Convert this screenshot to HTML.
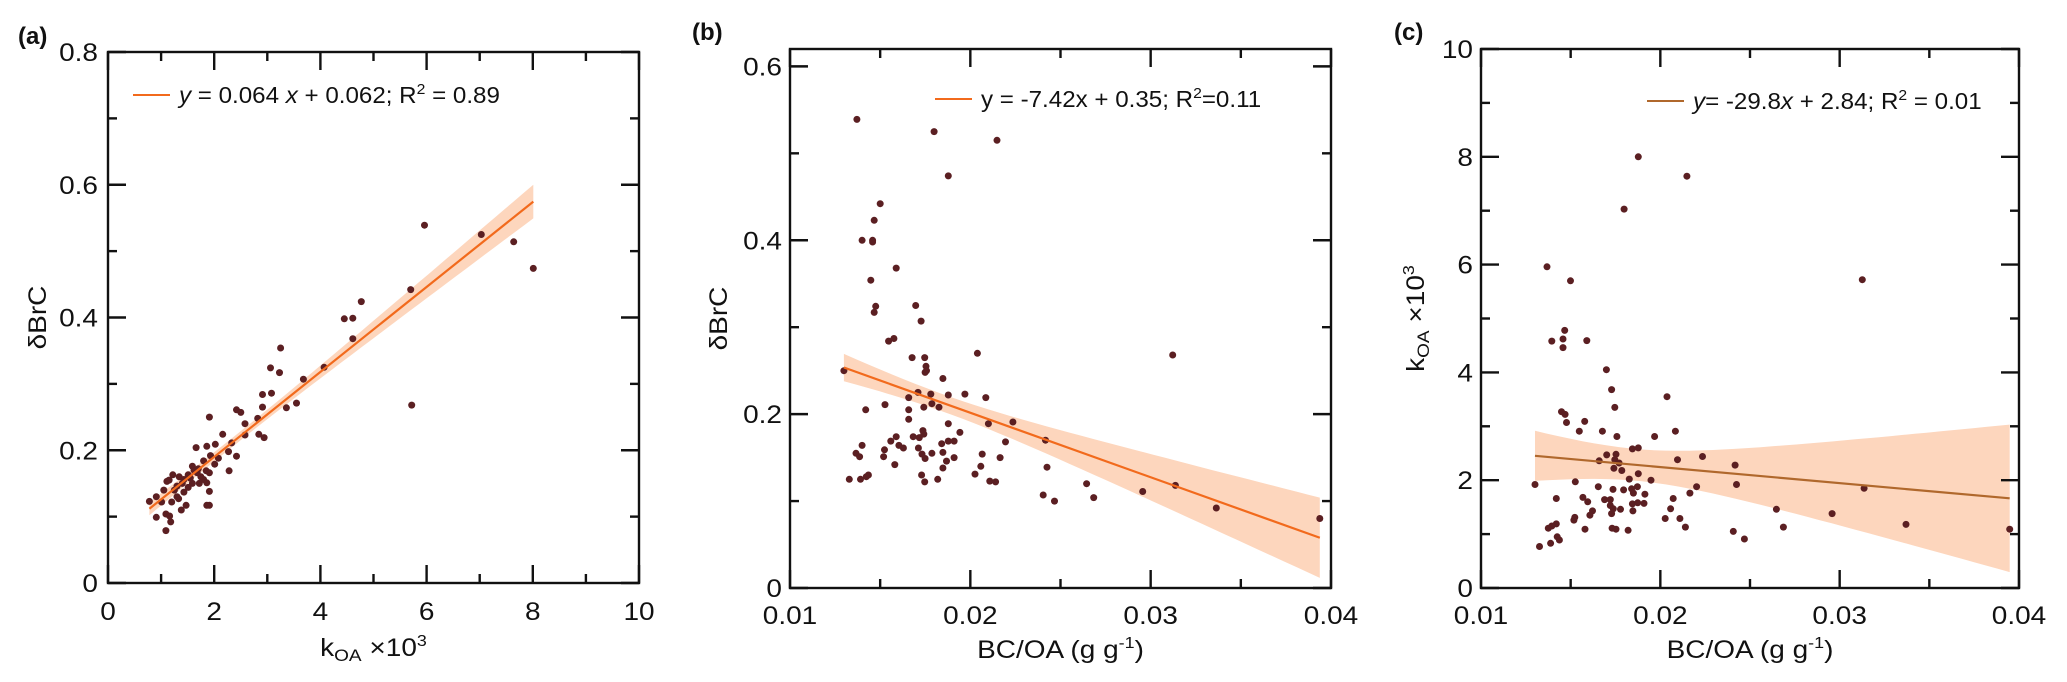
<!DOCTYPE html>
<html><head><meta charset="utf-8"><style>
html,body{margin:0;padding:0;background:#fff}
svg{display:block}
text{font-family:"Liberation Sans",Arial,sans-serif;fill:#111}
</style></head><body>
<svg id="fig" width="2067" height="682" viewBox="0 0 2067 682" xmlns="http://www.w3.org/2000/svg"></svg>
<script>
// ---- Panel (a) data: kOA x10^3 vs dBrC ----
const aX=[5.96,7.03,7.64,8.01,5.70,4.77,4.45,4.61,4.61,4.07,3.25,3.06,3.23,3.68,2.91,3.08,2.91,3.36,3.55,5.72,1.91,2.42,2.50,2.82,2.58,2.58,2.16,2.33,2.84,2.94,1.66,1.86,2.02,1.93,2.27,2.08,2.42,2.28,1.80,2.01,1.59,1.85,1.91,1.22,1.34,1.43,1.51,1.68,1.59,1.51,1.30,1.11,1.72,1.43,1.30,0.78,0.91,1.01,1.20,1.33,1.91,1.91,1.47,1.38,1.09,1.16,0.91,1.18,1.09,1.86,1.80,1.86,1.25,1.40,1.55,1.62,1.70,1.05,1.15,1.75];
const aY=[0.539,0.525,0.514,0.474,0.442,0.424,0.398,0.399,0.368,0.325,0.354,0.324,0.317,0.307,0.284,0.286,0.265,0.264,0.271,0.268,0.250,0.261,0.257,0.248,0.240,0.223,0.224,0.211,0.224,0.219,0.204,0.206,0.209,0.192,0.198,0.188,0.191,0.169,0.184,0.179,0.176,0.169,0.166,0.163,0.160,0.156,0.163,0.166,0.150,0.144,0.146,0.153,0.150,0.137,0.130,0.123,0.130,0.122,0.122,0.127,0.138,0.117,0.117,0.110,0.104,0.101,0.099,0.092,0.079,0.117,0.156,0.151,0.140,0.150,0.158,0.170,0.172,0.140,0.155,0.160];
const aFit=[0.064,0.062];
const aXTicks=[0,2,4,6,8,10];
const aYTicks=[0,0.2,0.4,0.6,0.8];
// ---- Panel (b) data: BC/OA vs dBrC ----
const bX=[0.01371,0.01799,0.02148,0.01878,0.0150,0.01467,0.0140,0.01458,0.01458,0.01589,0.01448,0.01475,0.01467,0.01697,0.01727,0.01547,0.01576,0.01677,0.01747,0.01754,0.01757,0.01749,0.02039,0.03122,0.01299,0.01848,0.0171,0.01781,0.01878,0.0197,0.02086,0.01658,0.01742,0.01787,0.01826,0.01527,0.0142,0.01658,0.01658,0.01878,0.02236,0.021,0.01737,0.01742,0.01942,0.01717,0.01683,0.01589,0.01559,0.01604,0.01629,0.01841,0.01878,0.0191,0.01848,0.02195,0.02417,0.01524,0.01519,0.0140,0.01366,0.01386,0.01712,0.01732,0.01749,0.01787,0.0191,0.01868,0.02165,0.02066,0.01581,0.01848,0.02425,0.0173,0.01435,0.01423,0.02026,0.02058,0.01329,0.01391,0.01819,0.01747,0.02108,0.0214,0.02645,0.03137,0.02404,0.02467,0.02684,0.02956,0.03364,0.03938];
const bY=[0.539,0.525,0.515,0.474,0.442,0.423,0.40,0.40,0.398,0.368,0.354,0.324,0.317,0.325,0.307,0.284,0.287,0.265,0.265,0.255,0.250,0.248,0.270,0.268,0.250,0.241,0.225,0.223,0.222,0.223,0.219,0.219,0.208,0.212,0.208,0.211,0.205,0.205,0.194,0.189,0.191,0.189,0.181,0.177,0.179,0.173,0.174,0.174,0.169,0.164,0.161,0.166,0.169,0.169,0.156,0.168,0.170,0.159,0.151,0.164,0.155,0.151,0.161,0.154,0.149,0.155,0.150,0.146,0.150,0.154,0.142,0.138,0.139,0.130,0.130,0.128,0.131,0.140,0.125,0.125,0.125,0.122,0.123,0.122,0.120,0.118,0.107,0.100,0.104,0.111,0.092,0.080];
const bFit=[-7.42,0.35];
const bXTicks=[0.01,0.02,0.03,0.04];
const bYTicks=[0,0.2,0.4,0.6];
// ---- Panel (c) data: BC/OA vs kOA x10^3 ----
const cX=[0.01877,0.02148,0.01798,0.01368,0.01499,0.03126,0.01467,0.01395,0.01457,0.01457,0.0159,0.01699,0.01728,0.02037,0.01746,0.01449,0.01469,0.01477,0.01578,0.01548,0.01677,0.02084,0.01758,0.01968,0.01844,0.01877,0.01701,0.01753,0.01746,0.02096,0.02235,0.01659,0.0177,0.01741,0.01785,0.01877,0.02417,0.01827,0.01948,0.01526,0.01301,0.02425,0.02202,0.03136,0.01654,0.01736,0.01795,0.0184,0.01872,0.0185,0.01914,0.02165,0.0142,0.01568,0.01595,0.01689,0.01721,0.02072,0.01844,0.01874,0.01909,0.01721,0.01738,0.01622,0.01607,0.02057,0.02647,0.01847,0.01778,0.01728,0.02958,0.01523,0.01518,0.02027,0.02109,0.0337,0.0142,0.01395,0.01375,0.0214,0.02686,0.0158,0.01731,0.01753,0.0182,0.03948,0.02407,0.01425,0.01437,0.02469,0.01388,0.01326];
const cY=[8.00,7.64,7.03,5.96,5.70,5.72,4.78,4.58,4.62,4.46,4.59,4.05,3.68,3.55,3.35,3.27,3.22,3.07,3.09,2.91,2.91,2.91,2.81,2.81,2.58,2.60,2.47,2.48,2.38,2.38,2.44,2.36,2.32,2.22,2.18,2.12,2.28,2.02,2.00,1.97,1.92,1.92,1.88,1.85,1.88,1.83,1.82,1.84,1.88,1.76,1.74,1.76,1.66,1.68,1.60,1.64,1.64,1.66,1.56,1.58,1.57,1.53,1.47,1.43,1.35,1.47,1.46,1.43,1.46,1.38,1.38,1.31,1.26,1.29,1.29,1.18,1.19,1.15,1.11,1.13,1.13,1.09,1.11,1.09,1.07,1.09,1.05,0.95,0.89,0.91,0.83,0.77];
const cFit=[-29.8,2.84];
const cXTicks=[0.01,0.02,0.03,0.04];
const cYTicks=[0,2,4,6,8,10];

const NS='http://www.w3.org/2000/svg';
const svg=document.getElementById('fig');
function mk(tag,attrs,parent){const e=document.createElementNS(NS,tag);for(const k in attrs)e.setAttribute(k,attrs[k]);(parent||svg).appendChild(e);return e;}
function txt(parent,x,y,s,size,anchor,extra){const t=mk('text',{x:0,y:0,'font-size':size,'text-anchor':anchor||'middle',transform:`translate(${x},${y}) scale(1.12,1)`},parent);if(extra)for(const k in extra)t.setAttribute(k,extra[k]);t.innerHTML=s;return t;}
const defs=mk('defs',{});

function panel(cfg){
  const g=mk('g',{});
  
  
  const {L,R,T,B,x0,x1,y0,y1}=cfg;
  const cp=mk('clipPath',{id:'clip-'+cfg.name},defs);
  mk('rect',{x:L,y:T,width:R-L,height:B-T},cp);
  const sx=v=>L+(v-x0)/(x1-x0)*(R-L);
  const sy=v=>B-(v-y0)/(y1-y0)*(B-T);
  const xs=cfg.xs, ys=cfg.ys, n=xs.length;
  const m=cfg.fit[0], b=cfg.fit[1];
  const mx=xs.reduce((s,v)=>s+v,0)/n;
  let sxx=0,sse=0;for(let i=0;i<n;i++){sxx+=(xs[i]-mx)**2;sse+=(ys[i]-(m*xs[i]+b))**2;}
  const se=Math.sqrt(sse/(n-2));
  const lo=Math.min(...xs), hi=Math.max(...xs);
  const up=[],dn=[];
  for(let k=0;k<=40;k++){const x=lo+(hi-lo)*k/40;const h=cfg.bandK*1.98*se*Math.sqrt(1/n+(x-mx)**2/sxx);const yv=m*x+b;up.push(`${sx(x).toFixed(1)},${sy(yv+h).toFixed(1)}`);dn.unshift(`${sx(x).toFixed(1)},${sy(yv-h).toFixed(1)}`);}
  const band=mk('polygon',{points:up.concat(dn).join(' '),fill:'#fdd6bd',stroke:'none','clip-path':`url(#clip-${cfg.name})`},g);
  
  
  for(let i=0;i<n;i++){
    const c=mk('circle',{cx:sx(xs[i]).toFixed(1),cy:sy(ys[i]).toFixed(1),r:3.5,fill:'#5b1f22'},g);
    
    
  }
  const ln=mk('line',{x1:sx(lo),y1:sy(m*lo+b),x2:sx(hi),y2:sy(m*hi+b),stroke:cfg.lineColor,'stroke-width':2.2},g);
  
  
  const fr=mk('rect',{x:L,y:T,width:R-L,height:B-T,fill:'none',stroke:'#111','stroke-width':2.4},g);
  
  
  const xt=cfg.xTicks, yt=cfg.yTicks;
  const xm=[];for(let i=0;i<xt.length-1;i++){xm.push(xt[i]);xm.push((xt[i]+xt[i+1])/2);}xm.push(xt[xt.length-1]);
  const ym=[];for(let i=0;i<yt.length-1;i++){ym.push(yt[i]);ym.push((yt[i]+yt[i+1])/2);}ym.push(yt[yt.length-1]);
  xm.forEach((v,i)=>{const len=i%2?9:18;const X=sx(v);
    mk('line',{x1:X,y1:B,x2:X,y2:B-len,stroke:'#111','stroke-width':2.4},g);
    mk('line',{x1:X,y1:T,x2:X,y2:T+len,stroke:'#111','stroke-width':2.4},g);});
  ym.forEach((v,i)=>{const len=i%2?9:18;const Y=sy(v);
    mk('line',{x1:L,y1:Y,x2:L+len,y2:Y,stroke:'#111','stroke-width':2.4},g);
    mk('line',{x1:R,y1:Y,x2:R-len,y2:Y,stroke:'#111','stroke-width':2.4},g);});
  xt.forEach((v,i)=>{const t=txt(g,sx(v),cfg.xLabY,cfg.xFmt(v),25,'middle');
    
    });
  yt.forEach((v,i)=>{const t=txt(g,L-8-(cfg.yLabPad||0),sy(v)+9,cfg.yFmt(v),25,'end');
    
    });
  const xtT=txt(g,(L+R)/2+(cfg.xTitleDx||0),cfg.xTitleY,cfg.xTitle,25,'middle');
  
  
  const ytT=mk('text',{x:0,y:0,'font-size':25,'text-anchor':'middle',transform:`translate(${cfg.yTitleX},${(T+B)/2}) rotate(-90) scale(1.12,1)`},g);
  ytT.innerHTML=cfg.yTitle;
  
  
  const lg=mk('g',{},g);
  
  
  mk('line',{x1:cfg.legX,y1:cfg.legY,x2:cfg.legX+37,y2:cfg.legY,stroke:cfg.lineColor,'stroke-width':2},lg);
  txt(lg,cfg.legX+46,cfg.legY+8,cfg.legText,23,'start',{transform:`translate(${cfg.legX+46},${cfg.legY+8}) scale(1.05,1)`});
  const pl=mk('text',{x:cfg.plX,y:cfg.plY,'font-size':24,'font-weight':'bold'},g);
  pl.innerHTML=cfg.pl;
  
  
}
const f2=v=>v===0?'0':String(v);
const fx=v=>v.toFixed(2);
panel({name:'panel-a',L:108,R:639,T:52,B:583,x0:0,x1:10,y0:0,y1:0.8,xs:aX,ys:aY,fit:aFit,xTicks:aXTicks,yTicks:aYTicks,bandK:0.8,
  xFmt:f2,yFmt:v=>v===0?'0':v.toFixed(1),xLabY:620,yLabPad:2,lineColor:'#f26a1c',
  xTitle:'k<tspan font-size="17" dy="5">OA</tspan><tspan dy="-5"> ×10</tspan><tspan font-size="16" dy="-10">3</tspan>',xTitleY:656,xTitleDx:0,
  yTitle:'δBrC',yTitleX:46,legX:133,legY:95,
  legText:'<tspan font-style="italic">y</tspan> = 0.064 <tspan font-style="italic">x</tspan> + 0.062;  R<tspan font-size="15" dy="-9">2</tspan><tspan dy="9"> = 0.89</tspan>',
  pl:'(a)',plX:18,plY:44});
panel({name:'panel-b',L:790,R:1331,T:49,B:588,x0:0.01,x1:0.04,y0:0,y1:0.62,xs:bX,ys:bY,fit:bFit,xTicks:bXTicks,yTicks:bYTicks,bandK:0.5,
  xFmt:fx,yFmt:v=>v===0?'0':v.toFixed(1),xLabY:624,lineColor:'#f26a1c',
  xTitle:'BC/OA (g g<tspan font-size="16" dy="-10">-1</tspan><tspan dy="10">)</tspan>',xTitleY:658,
  yTitle:'δBrC',yTitleX:727,legX:935,legY:99,
  legText:'y = -7.42x + 0.35;  R<tspan font-size="15" dy="-9">2</tspan><tspan dy="9">=0.11</tspan>',
  pl:'(b)',plX:692,plY:40});
panel({name:'panel-c',L:1481,R:2019,T:49,B:588,x0:0.01,x1:0.04,y0:0,y1:10,xs:cX,ys:cY,fit:cFit,xTicks:cXTicks,yTicks:cYTicks,bandK:0.95,
  xFmt:fx,yFmt:v=>String(v),xLabY:624,lineColor:'#b0682c',
  xTitle:'BC/OA (g g<tspan font-size="16" dy="-10">-1</tspan><tspan dy="10">)</tspan>',xTitleY:658,
  yTitle:'k<tspan font-size="17" dy="5">OA</tspan><tspan dy="-5"> ×10</tspan><tspan font-size="16" dy="-10">3</tspan>',yTitleX:1424,legX:1647,legY:101,
  legText:'<tspan font-style="italic">y</tspan>= -29.8<tspan font-style="italic">x</tspan> + 2.84; R<tspan font-size="15" dy="-9">2</tspan><tspan dy="9"> = 0.01</tspan>',
  pl:'(c)',plX:1394,plY:40});
</script>
</body></html>
